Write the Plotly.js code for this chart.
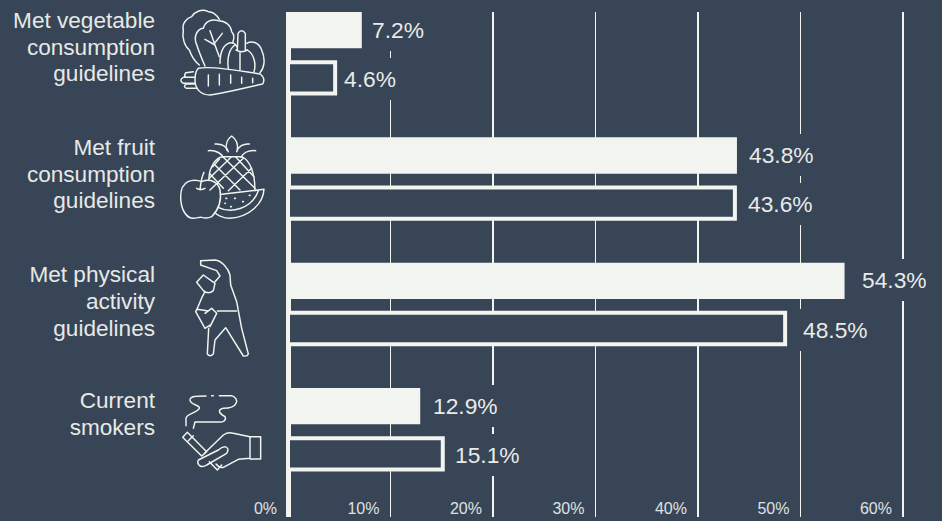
<!DOCTYPE html>
<html><head><meta charset="utf-8">
<script src="https://cdn.plot.ly/plotly-3.0.1.min.js"></script>
<style>html,body{margin:0;padding:0;background:#374557}#c{width:942px;height:521px}</style>
</head><body><div id="c"></div>
<script>
const categories = ["Met vegetable<br>consumption<br>guidelines","Met fruit<br>consumption<br>guidelines","Met physical<br>activity<br>guidelines","Current<br>smokers"];
const seriesFilled = [7.2,43.8,54.3,12.9];
const seriesOutline = [4.6,43.6,48.5,15.1];
const xTicks = [0,10,20,30,40,50,60];
const xTickLabels = ["0%","10%","20%","30%","40%","50%","60%"];
const catPos = [0,1,2,3];
const labelPos = [-0.038,-0.024,-0.01,-0.123];
const gapFilled = [7,9,14,10];
const gapOutline = [6,10,15,9];

const bg="#374557", ink="#f2f4ef";
const W=942,H=521,L=288,T=12,B=4,R=0;
const pw=W-L-R, ph=H-T-B;
const font="'Liberation Sans',Arimo,Helvetica,Arial,sans-serif";

const icons = `<svg xmlns="http://www.w3.org/2000/svg" width="942" height="521" viewBox="0 0 942 521"><g fill="none" stroke="${ink}" stroke-width="4.4" stroke-linecap="round" stroke-linejoin="round">
<g transform="translate(160,0) scale(.33333)">
<path d="M118,195 C105,185 95,170 88,150 C75,140 65,115 70,90 C65,70 80,55 95,50 C105,35 125,25 145,35 C160,35 172,48 178,58"/>
<path d="M135,198 C125,175 115,150 107,125 C102,105 115,85 130,85 C135,65 155,55 175,62 C195,62 212,75 215,95 C225,105 222,118 218,128"/>
<path d="M178,170 C170,150 160,120 150,92 M135,118 L165,135 M165,128 L187,100"/>
<path d="M180,190 C180,150 195,128 215,128 C222,128 228,135 232,142"/>
<path d="M232,150 L234,100 Q245,85 256,100 L256,150 M228,150 Q245,160 262,150"/>
<path d="M260,130 C275,122 295,125 305,150 C318,180 312,205 300,218"/>
<path d="M205,205 C200,170 210,145 225,135 M240,158 L240,210 M262,150 C285,165 288,195 282,215"/>
<path d="M115,205 C135,200 200,205 300,222 Q318,235 308,252 C260,262 200,278 150,285 C120,285 105,265 105,240 C105,225 108,212 115,205 Z"/>
<path d="M105,232 L70,232 Q55,240 70,250 L105,250 M100,215 L78,218 Q70,225 78,232 M103,252 L78,252 Q68,262 80,265 L112,265"/>
<path d="M145,225 V258 M178,223 V255 M212,225 V250 M245,232 V250 M278,235 V248"/>
<path d="M165,432 C185,430 200,440 205,455 M145,452 C170,450 185,462 190,472 M268,432 C250,430 235,440 230,455 M287,452 C262,450 248,462 243,472"/>
<path d="M200,450 C195,430 205,415 215,408 C225,415 235,430 232,450"/>
<path d="M147,540 C145,510 165,470 190,470 L245,470 C270,480 285,520 285,572"/>
<path d="M165,495 L240,570 M190,472 L285,565 M228,472 L282,530 M150,522 L190,565 M275,505 L205,572 M250,475 L150,570 M213,472 L148,535 M178,478 L158,500"/>
<path d="M125,545 C100,535 62,540 62,590 C62,630 80,655 100,655 C112,655 118,650 125,652 C135,655 145,655 155,650 C175,630 185,600 180,570 C175,545 150,535 125,545 Z"/>
<path d="M120,570 C122,550 125,530 132,517 M110,565 Q122,572 135,565"/>
<path d="M185,583 L312,568 C310,610 270,650 210,655 C190,655 170,645 165,638 M174,622 C210,640 275,630 295,572"/>
<path d="M198,595 h2 M224,595 h2 M248,605 h2 M268,586 h2 M212,620 h2 M195,610 h1" stroke-width="5"/>
</g>
<g transform="translate(160,250) scale(.33333)">
<path d="M122,32 L165,30 C185,32 205,55 210,75 L212,105 L230,155 L245,235 L265,312 Q262,320 250,318 L197,233 L165,270 L160,312 Q150,322 142,312 L146,235"/>
<path d="M122,32 L122,45 L170,62 L180,78 L165,95"/>
<path d="M110,97 L130,75 L165,100 L160,122 Q145,135 130,122 Z"/>
<path d="M135,125 C120,150 118,165 107,185 L135,235 L150,225 M112,178 L145,183 M172,183 L230,183 M135,190 L155,175 L170,190 L150,230"/>
<path d="M78,527 V505 C80,490 110,490 118,475 C122,465 90,465 90,450 C90,438 110,438 138,438 M155,437 h5 M178,437 H215 C240,445 235,475 190,475 C170,480 178,490 195,500 C200,510 190,518 180,516 L105,516 L100,535"/>
<path d="M68,562 L82,547 L140,605 L125,618 Z M85,572 L100,557"/>
<path d="M135,608 L190,555 Q205,545 220,550 L270,560 V625 L235,628 L190,652 C180,655 175,650 168,642"/>
<path d="M115,630 Q110,640 120,648 Q130,652 140,645 L200,610 Q210,595 195,590 Q185,590 175,600 Z"/>
<path d="M148,635 L172,660 L185,645 M270,560 H302 V627 H270"/>
</g></g></svg>`;

const annos=[];
function addLabels(vals,gaps,off){
  vals.forEach((v,i)=>annos.push({x:v,y:catPos[i]+off,xref:"x",yref:"y",text:v.toFixed(1)+"%",showarrow:false,
    xanchor:"left",yanchor:"middle",xshift:gaps[i],height:36,bgcolor:bg,borderpad:3,borderwidth:0,
    font:{family:font,size:22.8,color:"#e8ebe8"}}));
}
addLabels(seriesFilled,gapFilled,-0.193);
addLabels(seriesOutline,gapOutline,0.2);

const traces=[
 {type:"bar",orientation:"h",y:catPos,x:seriesFilled,offset:-0.335,width:0.29,marker:{color:ink,line:{width:0}},hoverinfo:"skip"},
 {type:"bar",orientation:"h",y:catPos,x:seriesOutline,offset:0.065,width:0.25,marker:{color:bg,line:{color:ink,width:4}},hoverinfo:"skip"}
];
const layout={
 width:W,height:H,margin:{l:L,r:R,t:T,b:B,pad:0},paper_bgcolor:bg,plot_bgcolor:bg,
 barmode:"overlay",showlegend:false,
 font:{family:font,color:ink},
 xaxis:{range:[0,pw/10.25],tickvals:xTicks,ticktext:xTickLabels,showgrid:true,gridcolor:ink,gridwidth:1.1,
   zeroline:true,zerolinecolor:ink,zerolinewidth:5,showline:false,ticks:"",fixedrange:true,
   ticklabelposition:"inside left",ticklabeloverflow:"allow",ticklabelshift:-11,ticklabelstandoff:-6,
   tickfont:{family:font,size:16,color:"#dfe2e0"}},
 yaxis:{range:[3.694,-0.335],tickvals:labelPos.map((d,i)=>catPos[i]+d),ticktext:categories,showgrid:false,zeroline:false,showline:false,
   ticks:"",ticklabelstandoff:132,tickfont:{family:font,size:22.6,color:"#e6e9e6"},fixedrange:true},
 annotations:annos,
 images:[{source:"data:image/svg+xml;charset=utf-8,"+encodeURIComponent(icons),xref:"paper",yref:"paper",
   x:-L/pw,y:1+T/ph,sizex:W/pw,sizey:H/ph,xanchor:"left",yanchor:"top",sizing:"stretch",layer:"above"}]
};
Plotly.newPlot("c",traces,layout,{displayModeBar:false,staticPlot:true}).then(()=>{
  document.querySelectorAll(".ytick text").forEach(t=>{
    t.querySelectorAll("tspan.line").forEach((s,i)=>s.setAttribute("dy",(i*26.8)+"px"));
  });
});
</script></body></html>
